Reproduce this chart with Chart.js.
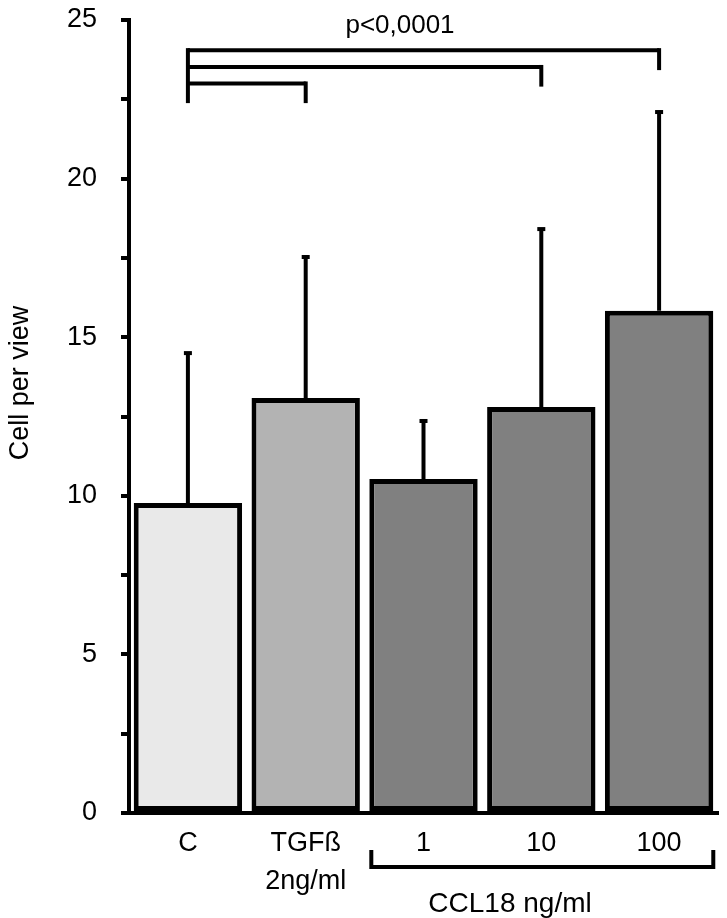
<!DOCTYPE html>
<html>
<head>
<meta charset="utf-8">
<script src="https://cdn.jsdelivr.net/npm/chart.js@4.4.0/dist/chart.umd.min.js"></script>
<style>
  body { margin: 0; background: #ffffff; }
  canvas { display: block; }
</style>
</head>
<body>
<canvas id="cellChart" width="727" height="918"></canvas>
<script>
// values
const categories = ['C', ['TGFß', '2ng/ml'], '1', '10', '100'];
const cellMeans = [9.77, 13.08, 10.53, 12.8, 15.83];
const cellSD = [4.76, 4.48, 1.86, 5.64, 6.3];
const barColors = ['#e9e9e9', '#b3b3b3', '#808080', '#808080', '#808080'];
const yTicks = [0, 5, 10, 15, 20, 25];

// significance brackets: from category 0 to "to", at level y, right end dropping to "drop"
const sigTo = [4, 3, 1];
const sigLevel = [24.05, 23.52, 23.0];
const sigDrop = [23.42, 22.9, 22.38];
const sigLeftDrop = 22.38;
const sigText = 'p<0,0001';
const groupLabel = 'CCL18 ng/ml';
const yTitle = 'Cell per view';

const FONT = "'Liberation Sans', Arial, sans-serif";

// error bars (upper only, with a small cap)
const errorBars = {
    id: 'errorBars',
    afterDatasetsDraw(chart) {
        const ctx = chart.ctx;
        const y = chart.scales.y;
        const meta = chart.getDatasetMeta(0);
        ctx.save();
        ctx.strokeStyle = '#000';
        ctx.fillStyle = '#000';
        ctx.lineWidth = 4;
        meta.data.forEach((bar, i) => {
            const top = y.getPixelForValue(cellMeans[i] + cellSD[i]);
            ctx.beginPath();
            ctx.moveTo(bar.x, bar.y);
            ctx.lineTo(bar.x, top);
            ctx.stroke();
            ctx.fillRect(bar.x - 4, top - 1, 8, 4);
        });
        ctx.restore();
    }
};

// brackets on top, axis title and the CCL18 group under the axis
const annotations = {
    id: 'annotations',
    afterDraw(chart) {
        const ctx = chart.ctx;
        const y = chart.scales.y;
        const meta = chart.getDatasetMeta(0);
        const xs = meta.data.map(b => b.x);
        ctx.save();
        ctx.strokeStyle = '#000';
        ctx.lineWidth = 4;
        ctx.lineCap = 'butt';

        // left vertical of the brackets
        ctx.beginPath();
        ctx.moveTo(xs[0], y.getPixelForValue(sigLevel[0]) - 2);
        ctx.lineTo(xs[0], y.getPixelForValue(sigLeftDrop));
        ctx.stroke();

        sigTo.forEach((to, i) => {
            const ly = y.getPixelForValue(sigLevel[i]);
            ctx.beginPath();
            ctx.moveTo(xs[0], ly);
            ctx.lineTo(xs[to], ly);
            ctx.stroke();
            ctx.beginPath();
            ctx.moveTo(xs[to], ly - 2);
            ctx.lineTo(xs[to], y.getPixelForValue(sigDrop[i]));
            ctx.stroke();
        });

        ctx.fillStyle = '#000';
        ctx.font = '26px ' + FONT;
        ctx.textAlign = 'center';
        ctx.textBaseline = 'alphabetic';
        ctx.fillText(sigText, 400, y.getPixelForValue(sigLevel[0]) - 17);

        // CCL18 bracket
        const b1 = meta.data[2], b3 = meta.data[4];
        const left = b1.x - b1.width / 2 + 2;
        const right = b3.x + b3.width / 2;
        const base = chart.chartArea.bottom;
        ctx.beginPath();
        ctx.moveTo(left, base + 37);
        ctx.lineTo(left, base + 54);
        ctx.lineTo(right, base + 54);
        ctx.lineTo(right, base + 37);
        ctx.stroke();
        ctx.font = '28px ' + FONT;
        ctx.fillText(groupLabel, 510, base + 99);

        // y axis title
        ctx.font = '27px ' + FONT;
        ctx.translate(28, 383);
        ctx.rotate(-Math.PI / 2);
        ctx.fillText(yTitle, 0, 0);
        ctx.restore();
    }
};

const ctx = document.getElementById('cellChart').getContext('2d');
const cellChart = new Chart(ctx, {
    type: 'bar',
    data: {
        labels: categories,
        datasets: [{
            data: cellMeans,
            backgroundColor: barColors,
            borderColor: '#000',
            borderWidth: 5,
            borderSkipped: false,
            barPercentage: 0.92,
            categoryPercentage: 1
        }]
    },
    options: {
        responsive: false,
        animation: false,
        devicePixelRatio: 1,
        layout: { padding: { top: 0, right: 9, bottom: 0, left: 0 } },
        plugins: {
            legend: { display: false },
            tooltip: { enabled: false }
        },
        scales: {
            x: {
                grid: { display: false, drawTicks: false },
                border: { display: true, color: '#000', width: 4 },
                ticks: {
                    color: '#000',
                    padding: 12,
                    maxRotation: 0,
                    autoSkip: false,
                    font: { family: FONT, size: 27, lineHeight: 1.4 }
                },
                afterFit(scale) { scale.height = 105; }
            },
            y: {
                min: 0,
                max: 25,
                grid: {
                    drawOnChartArea: false,
                    color: '#000',
                    lineWidth: 4,
                    tickLength: 8
                },
                border: { display: true, color: '#000', width: 4 },
                ticks: {
                    stepSize: 2.5,
                    color: '#000',
                    padding: 24,
                    font: { family: FONT, size: 27 },
                    callback: v => yTicks.includes(v) ? v : ''
                },
                afterFit(scale) {
                    scale.width = 129;
                    scale.paddingTop = 20;
                }
            }
        }
    },
    plugins: [errorBars, annotations]
});
</script>
</body>
</html>
